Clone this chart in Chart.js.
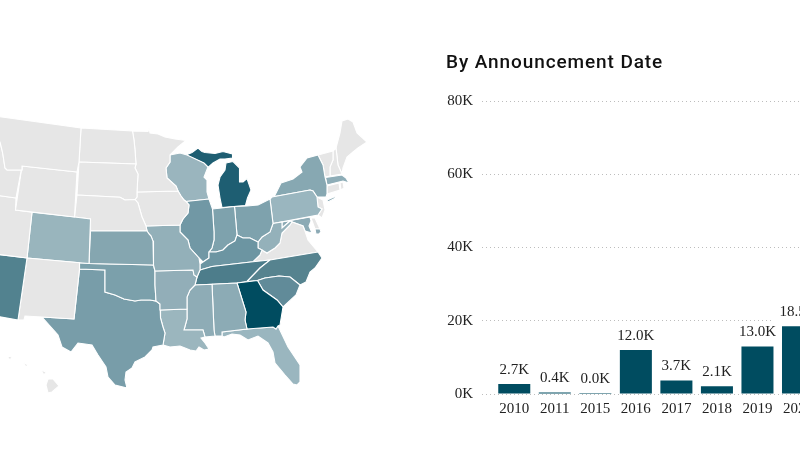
<!DOCTYPE html>
<html>
<head>
<meta charset="utf-8">
<script src="https://cdn.jsdelivr.net/npm/chart.js@4"></script>
<style>
    html, body { margin: 0; width: 800px; height: 460px; overflow: hidden; background: #fff; }
    canvas { position: absolute; top: 0; }
    #mapChart { left: 0; }
    #barChart { left: 440px; }
    #title {
        position: absolute; left: 446px; top: 50px; color: #111;
        font: 500 19px Roboto, sans-serif; letter-spacing: 0.9px; white-space: nowrap;
    }
</style>
</head>
<body>
<canvas id="mapChart" width="440" height="460"></canvas>
<canvas id="barChart" width="379" height="460"></canvas>
<div id="title">By Announcement Date</div>
<script>
// Bar chart values, in thousands
const years = ['2010', '2011', '2015', '2016', '2017', '2018', '2019', '2020'];
const announced = [2.7, 0.4, 0.0, 12.0, 3.7, 2.1, 13.0, 18.5];
const yTickLabels = ['0K', '20K', '40K', '60K', '80K'];

// State outlines, x/y in map units
const montana = [[-5,116],[81,128],[79,162],[77,172],[22,166],[22,170],[7,170],[5,168],[3,155],[2,150],[0,142],[-5,140]];
const idaho = [[-5,140],[0,142],[2,150],[3,155],[5,168],[7,170],[22,170],[22,166],[16,198],[-5,195]];
const wyoming = [[22,166],[77,172],[74.5,217],[15.5,210]];
const utah = [[-5,195],[16,198],[15.5,210],[32,212.3],[27,258],[-5,254]];
const arizona = [[-5,254],[27,258],[18,320],[-5,316]];
const newMexico = [[27,258],[79.5,262.7],[79.5,269],[74,319],[42,317],[25,316],[24,320],[18,320]];
const colorado = [[32,212.3],[74.5,217],[90.5,219],[89,263.5],[79.5,262.7],[27,258]];
const kansas = [[90.5,231],[147,231],[149,234],[151,236],[153,241],[153.5,265],[89,263.5]];
const nebraska = [[77,195],[120,197.3],[125,200],[135,199.5],[138,203],[142,217],[146,226],[147,231],[90.5,231],[90.5,219],[74.5,217]];
const southDakota = [[79,162],[136,164],[135,168],[136,170],[138,174],[137,192],[137,197],[135,199.5],[125,200],[120,197.3],[77,195]];
const northDakota = [[81,128],[132.5,131],[134,140],[135,150],[136,164],[79,162]];
const minnesota = [[132.5,131],[148,131.5],[149,128],[150,133],[158,134],[165,137],[175,139],[186,140.5],[178,147],[170,155],[170,162],[166,168],[167,178],[176,186],[178,191],[137,192],[138,174],[136,170],[135,168],[136,164],[135,150],[134,140]];
const iowa = [[137,192],[178,191],[181,196],[184,200],[186,201.5],[189,205],[188,213],[183,219],[180,225],[146,226],[142,217],[138,203],[135,199.5],[137,197]];
const missouri = [[146,226],[180,225],[180,232],[188,240],[190,248],[199,258],[200,264],[200,270],[197,277],[194,275],[193,270],[155,271],[153.5,265],[153,241],[151,236],[149,234],[147,231]];
const arkansas = [[155,271],[193,270],[194,275],[197,277],[195,285],[190,290],[187,297],[187,309],[160.5,310],[160,304],[156,301],[155,285]];
const oklahoma = [[79.5,262.7],[89,263.5],[153.5,265],[155,271],[155,285],[156,301],[150,300],[141,300],[135,301],[124,299],[115,295],[105,292],[105,270],[79.5,269]];
const texas = [[79.5,269],[105,270],[105,292],[115,295],[124,299],[135,301],[141,300],[150,300],[156,301],[160,304],[160.5,318],[163,327],[165,333],[163,345],[153,347],[152,350],[145,357],[135,362],[132,368],[126,372],[125,380],[127,388],[115,385],[108,377],[106,367],[98,355],[92,345],[85,344],[78,343],[71,352],[62,347],[58,335],[42,317],[74,319]];
const louisiana = [[160.5,310],[187,309],[187,319],[184,330],[203,330],[205,337],[201,338],[205,343],[209,349],[204,350],[199,347],[196,351],[190,350],[185,348],[180,346],[170,347],[163,345],[165,333],[163,327],[160.5,318]];
const mississippi = [[195,285],[212,284.3],[214,330],[215,336],[205,337],[203,330],[184,330],[187,319],[187,309],[187,297],[190,290]];
const alabama = [[212,284.3],[237,283],[246,312],[245,320],[247,329],[222,332],[222,336],[217,336],[215,336],[214,330]];
const georgia = [[237,283],[257.5,280.5],[263,290],[277,300],[283,307],[280,325],[278,326],[276,329],[273,327],[247,329],[245,320],[246,312]];
const southCarolina = [[257.5,280.5],[265,278],[279,276],[290,277],[300,285],[296,295],[283,307],[277,300],[263,290]];
const northCarolina = [[247,281.5],[260,268],[270,260],[318,252],[322,258],[315,268],[310,272],[306,282],[300,285],[290,277],[279,276],[265,278],[257.5,280.5]];
const tennessee = [[200,270],[212,266.5],[253,261.7],[270,260],[260,268],[247,281.5],[237,283],[212,284.3],[195,285],[197,277]];
const kentucky = [[203,262],[209,258],[209,252],[216,252],[223,250],[228,245],[235,241],[237,235],[243,238],[250,238],[258,242],[258,248],[262,250],[260,255],[253,261.7],[212,266.5],[200,270],[200,264]];
const illinois = [[186,201.5],[209,199],[212.5,209],[214,232],[214,240],[212,248],[209,252],[209,258],[203,262],[199,258],[190,248],[188,240],[180,232],[180,225],[183,219],[188,213],[189,205]];
const indiana = [[212.5,209],[234.5,206.5],[237,235],[235,241],[228,245],[223,250],[216,252],[209,252],[212,248],[214,240],[214,232]];
const ohio = [[234.5,206.5],[247,206],[258,205],[270,199],[273,223.5],[270,232],[262,237],[258,242],[250,238],[243,238],[237,235]];
const wisconsin = [[170,155],[180,153],[187,155],[204,163],[208,167],[204,177],[207,180],[207,192],[209,199],[186,201.5],[184,200],[181,196],[178,191],[176,186],[167,178],[166,168],[170,162]];
const upperMichigan = [[186,155],[192,152.5],[198,148],[202,151.5],[205,152.5],[215,153.5],[223,151.5],[232.5,154],[232.5,158],[225,159],[220,159],[213,163],[208,167.5],[204,163.5]];
const lowerMichigan = [[226,163],[233,161.5],[239.5,168],[239.5,182],[243,182],[247,178.5],[251,190],[247.5,198],[245.5,205.5],[222,207.5],[220,198],[218,185],[220,177],[225,170]];
const westVirginia = [[258,242],[262,237],[270,232],[273,223.5],[282,222],[282,228],[290,221],[292,222],[290,225],[282,233],[280,243],[275,248],[267,253],[262,250],[258,248]];
const virginia = [[253,261.7],[260,255],[262,250],[267,253],[275,248],[280,243],[282,233],[290,225],[292,222],[303,226],[305,231],[308,240],[318,252],[270,260]];
const pennsylvania = [[270,199],[272,197],[310,190],[313,191],[317,197],[318,207],[322,209],[318,215],[273,223.5]];
const newYork = [[272,197],[275,195],[281,183],[293,179],[302,172],[300,167],[307,158],[318,155],[323,165],[325,177],[327,185],[327,194],[326,197],[317,197],[313,191],[310,190]];
const longIsland = [[327,200],[335,196.5],[335.5,198],[328,202]];
const newJersey = [[317,197],[323,200],[325,210],[322,218],[318,215],[322,209],[318,207]];
const maryland = [[282,222],[310,217],[311,221],[309,226],[312,233],[305,231],[303,226],[292,222],[290,221],[282,228]];
const eastShore = [[315,229],[320,229],[321,232],[319,234],[316,234]];
const delaware = [[311,218],[315,218],[320,229],[315,229]];
const massachusetts = [[325.5,177.5],[342,175],[346,178],[349,183],[343,181],[327,185]];
const connecticut = [[327,186],[339,183],[340,190],[327,194]];
const rhodeIsland = [[340,183],[343,182],[344,188],[341,190]];
const vermont = [[318,155],[333,151],[333,160],[330,167],[330,176],[325,177],[323,165]];
const newHampshire = [[333,151],[336,148],[338,165],[342,174],[330,176],[330,167],[333,160]];
const maine = [[336,148],[340,133],[342,121],[345,120],[348,119],[353,122],[357,133],[367,142],[358,148],[353,152],[347,157],[343,168],[342,174],[338,165]];
const florida = [[222,332],[247,329],[273,327],[276,329],[278,326],[288,347],[300,365],[300,382],[297,385],[293,384],[285,375],[275,363],[273,352],[268,343],[258,336],[248,340],[240,335],[232,334],[224,337],[222,336]];
const hawaiiBig = [[48,379],[53,379],[59,386],[52,392],[48,393],[46,385]];
const hawaiiMaui = [[41,370],[46,372],[44,375]];
const hawaiiOahu = [[23,362],[28,365],[26,367]];
const hawaiiKauai = [[7,356],[12,357],[10,360]];

const stateShapes = [montana, idaho, wyoming, utah, arizona, newMexico, colorado, kansas, nebraska, southDakota, northDakota, minnesota, iowa, missouri, arkansas, oklahoma, texas, louisiana, mississippi, alabama, georgia, southCarolina, northCarolina, tennessee, kentucky, illinois, indiana, ohio, wisconsin, upperMichigan, lowerMichigan, westVirginia, virginia, pennsylvania, newYork, longIsland, newJersey, maryland, eastShore, delaware, massachusetts, connecticut, rhodeIsland, vermont, newHampshire, maine, florida, hawaiiBig, hawaiiMaui, hawaiiOahu, hawaiiKauai];
const stateColors = ['#e6e6e6', '#e6e6e6', '#e6e6e6', '#e6e6e6', '#52828f', '#e6e6e6', '#99b5bd', '#85a6b0', '#e6e6e6', '#e6e6e6', '#e6e6e6', '#e6e6e6', '#e6e6e6', '#93b0b9', '#92aeb8', '#7ba0ab', '#789da9', '#9bb6be', '#8eacb6', '#8cabb5', '#004c60', '#618b99', '#56838f', '#4d7d8b', '#6c95a2', '#7198a5', '#7ea2ad', '#7ea2ad', '#9ab5be', '#1e5e72', '#1e5e72', '#94b1ba', '#e6e6e6', '#9ab6bf', '#87a8b2', '#87a8b2', '#e6e6e6', '#8caab5', '#8caab5', '#e6e6e6', '#8eadb7', '#e6e6e6', '#e6e6e6', '#e6e6e6', '#e6e6e6', '#e6e6e6', '#9ab6bf', '#e6e6e6', '#e6e6e6', '#e6e6e6', '#e6e6e6'];

const labelFont = { family: '"Liberation Serif", serif', size: 15 };
const inkColor = '#222';
const barColor = '#004c60';
const dotColor = '#bdbdbd';

// Map: each state is a closed filled line on hidden axes
new Chart(document.getElementById('mapChart'), {
    type: 'scatter',
    data: {
        datasets: stateShapes.map(function (shape, i) {
            const closed = shape.concat([shape[0]]);
            return {
                data: closed.map(function (p) { return { x: p[0], y: p[1] }; }),
                showLine: true,
                fill: 'shape',
                tension: 0,
                pointRadius: 0,
                borderWidth: 1.1,
                borderColor: '#fff',
                backgroundColor: stateColors[i]
            };
        })
    },
    options: {
        responsive: false,
        animation: false,
        layout: { padding: 0 },
        plugins: { legend: { display: false }, tooltip: { enabled: false } },
        scales: {
            x: { type: 'linear', min: 0, max: 440, display: false },
            y: { type: 'linear', min: 0, max: 460, reverse: true, display: false }
        }
    }
});

// Value labels with a white box behind them
const barLabels = {
    id: 'barLabels',
    afterDatasetsDraw(chart) {
        const ctx = chart.ctx;
        ctx.save();
        ctx.font = labelFont.size + 'px ' + labelFont.family;
        ctx.textAlign = 'center';
        ctx.textBaseline = 'middle';
        chart.getDatasetMeta(0).data.forEach(function (bar, i) {
            const text = announced[i].toFixed(1) + 'K';
            const w = ctx.measureText(text).width + 12;
            ctx.fillStyle = '#fff';
            ctx.fillRect(bar.x - w / 2, bar.y - 25, w, 21);
            ctx.fillStyle = inkColor;
            ctx.fillText(text, bar.x, bar.y - 14);
        });
        ctx.restore();
    }
};

new Chart(document.getElementById('barChart'), {
    type: 'bar',
    data: {
        labels: years,
        datasets: [{
            data: announced,
            backgroundColor: barColor,
            barPercentage: 1,
            categoryPercentage: 0.79,
            minBarLength: 1
        }]
    },
    options: {
        responsive: false,
        animation: false,
        layout: { padding: { top: 101, left: 0, right: 0, bottom: 0 } },
        plugins: { legend: { display: false }, tooltip: { enabled: false } },
        scales: {
            x: {
                afterFit(scale) { scale.height = 66; },
                border: { display: false },
                grid: { display: false, drawTicks: false },
                ticks: { color: inkColor, font: labelFont, padding: 6, maxRotation: 0, autoSkip: false }
            },
            y: {
                min: 0,
                max: 80,
                afterFit(scale) { scale.width = 54; },
                border: { display: false, dash: [1, 3] },
                grid: {
                    color: dotColor,
                    lineWidth: 1,
                    tickLength: 12,
                    tickColor: dotColor,
                    tickBorderDash: [1, 3]
                },
                ticks: {
                    stepSize: 20,
                    color: inkColor,
                    font: labelFont,
                    padding: 9,
                    callback: function (value, index) { return yTickLabels[index]; }
                }
            }
        }
    },
    plugins: [barLabels]
});
</script>
</body>
</html>
